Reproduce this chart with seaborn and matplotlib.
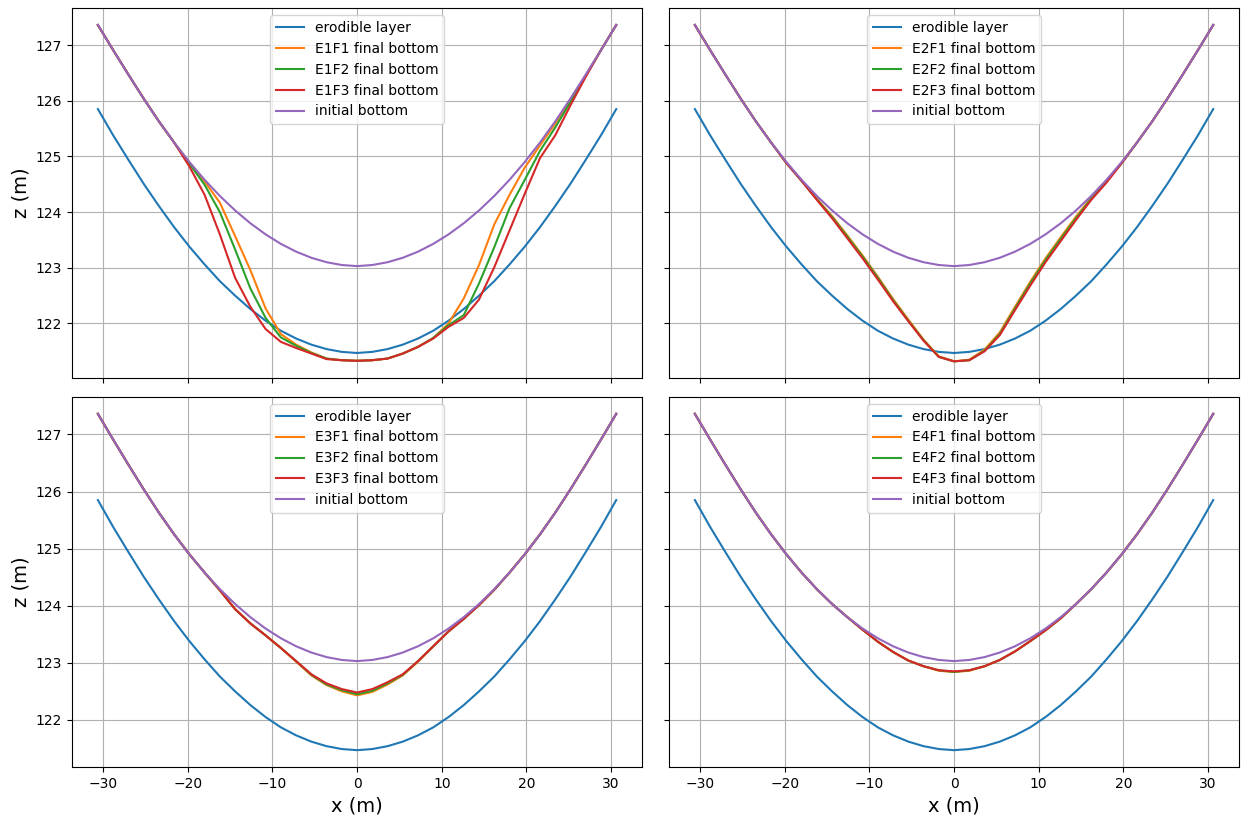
import matplotlib
matplotlib.use("Agg")
import matplotlib.pyplot as plt
import seaborn as sns

# Cross-section stations (m)
x_m = [-30.6, -28.8, -27.0, -25.2, -23.4, -21.6, -19.8, -18.0, -16.2, -14.4, -12.6, -10.8,
       -9.0, -7.2, -5.4, -3.6, -1.8, 0.0, 1.8, 3.6, 5.4, 7.2, 9.0, 10.8, 12.6, 14.4,
       16.2, 18.0, 19.8, 21.6, 23.4, 25.2, 27.0, 28.8, 30.6]

# Top of the erodible layer and the initial bed (m)
erodible = [125.85, 125.38, 124.94, 124.51, 124.11, 123.73, 123.38, 123.06, 122.76, 122.50, 122.26, 122.05,
            121.87, 121.73, 121.62, 121.54, 121.49, 121.47, 121.49, 121.54, 121.62, 121.73, 121.87, 122.05,
            122.26, 122.50, 122.76, 123.06, 123.38, 123.73, 124.11, 124.51, 124.94, 125.38, 125.85]
initial = [127.36, 126.91, 126.47, 126.04, 125.63, 125.25, 124.90, 124.58, 124.29, 124.03, 123.80, 123.60,
           123.43, 123.29, 123.18, 123.10, 123.05, 123.03, 123.05, 123.10, 123.18, 123.29, 123.43, 123.60,
           123.80, 124.03, 124.29, 124.58, 124.90, 125.25, 125.63, 126.04, 126.47, 126.91, 127.36]

# Final bed levels per scenario (m)
e1f1 = [127.36, 126.91, 126.47, 126.04, 125.63, 125.25, 124.89, 124.55, 124.17, 123.57, 122.96, 122.27,
        121.81, 121.62, 121.48, 121.37, 121.34, 121.33, 121.34, 121.37, 121.46, 121.58, 121.74, 122.00,
        122.45, 123.05, 123.78, 124.31, 124.80, 125.20, 125.59, 126.02, 126.46, 126.91, 127.36]
e1f2 = [127.36, 126.91, 126.47, 126.04, 125.63, 125.25, 124.87, 124.49, 124.00, 123.33, 122.63, 122.10,
        121.75, 121.60, 121.47, 121.37, 121.34, 121.33, 121.34, 121.37, 121.46, 121.58, 121.74, 121.97,
        122.15, 122.72, 123.37, 124.07, 124.58, 125.10, 125.52, 125.98, 126.45, 126.91, 127.36]
e1f3 = [127.36, 126.91, 126.47, 126.04, 125.63, 125.25, 124.82, 124.31, 123.60, 122.82, 122.30, 121.90,
        121.67, 121.56, 121.46, 121.36, 121.34, 121.33, 121.34, 121.37, 121.46, 121.58, 121.73, 121.94,
        122.10, 122.43, 123.01, 123.67, 124.33, 124.97, 125.38, 125.92, 126.43, 126.91, 127.36]

e2f1 = [127.36, 126.91, 126.47, 126.04, 125.63, 125.25, 124.89, 124.57, 124.24, 123.93, 123.58, 123.22,
        122.84, 122.44, 122.07, 121.71, 121.41, 121.32, 121.35, 121.53, 121.84, 122.30, 122.75, 123.17,
        123.55, 123.92, 124.26, 124.56, 124.89, 125.25, 125.63, 126.04, 126.47, 126.91, 127.36]
e2f2 = [127.36, 126.91, 126.47, 126.04, 125.63, 125.25, 124.88, 124.56, 124.23, 123.91, 123.56, 123.20,
        122.82, 122.42, 122.05, 121.70, 121.40, 121.32, 121.34, 121.51, 121.81, 122.27, 122.72, 123.14,
        123.52, 123.89, 124.24, 124.55, 124.88, 125.25, 125.63, 126.04, 126.47, 126.91, 127.36]
e2f3 = [127.36, 126.91, 126.47, 126.04, 125.63, 125.25, 124.88, 124.56, 124.22, 123.89, 123.53, 123.17,
        122.79, 122.40, 122.04, 121.69, 121.40, 121.32, 121.34, 121.50, 121.79, 122.24, 122.68, 123.10,
        123.48, 123.86, 124.22, 124.53, 124.88, 125.25, 125.63, 126.04, 126.47, 126.91, 127.36]

e3f1 = [127.36, 126.91, 126.47, 126.04, 125.63, 125.25, 124.90, 124.58, 124.27, 123.94, 123.69, 123.48,
        123.26, 123.02, 122.78, 122.61, 122.50, 122.43, 122.49, 122.62, 122.78, 123.02, 123.29, 123.55,
        123.77, 124.01, 124.28, 124.58, 124.90, 125.25, 125.63, 126.04, 126.47, 126.91, 127.36]
e3f2 = [127.36, 126.91, 126.47, 126.04, 125.63, 125.25, 124.90, 124.58, 124.27, 123.94, 123.69, 123.48,
        123.26, 123.03, 122.79, 122.62, 122.52, 122.45, 122.51, 122.64, 122.79, 123.03, 123.29, 123.55,
        123.77, 124.01, 124.28, 124.58, 124.90, 125.25, 125.63, 126.04, 126.47, 126.91, 127.36]
e3f3 = [127.36, 126.91, 126.47, 126.04, 125.63, 125.25, 124.90, 124.58, 124.27, 123.94, 123.69, 123.48,
        123.26, 123.03, 122.80, 122.64, 122.54, 122.48, 122.54, 122.66, 122.80, 123.03, 123.29, 123.55,
        123.77, 124.01, 124.28, 124.58, 124.90, 125.25, 125.63, 126.04, 126.47, 126.91, 127.36]

e4f1 = [127.36, 126.91, 126.47, 126.04, 125.63, 125.25, 124.90, 124.58, 124.29, 124.03, 123.80, 123.58,
        123.37, 123.19, 123.04, 122.94, 122.86, 122.84, 122.86, 122.94, 123.05, 123.20, 123.38, 123.57,
        123.78, 124.03, 124.29, 124.58, 124.90, 125.25, 125.63, 126.04, 126.47, 126.91, 127.36]
e4f2 = [127.36, 126.91, 126.47, 126.04, 125.63, 125.25, 124.90, 124.58, 124.29, 124.03, 123.80, 123.58,
        123.37, 123.19, 123.04, 122.94, 122.87, 122.84, 122.87, 122.94, 123.05, 123.20, 123.38, 123.57,
        123.78, 124.03, 124.29, 124.58, 124.90, 125.25, 125.63, 126.04, 126.47, 126.91, 127.36]
e4f3 = [127.36, 126.91, 126.47, 126.04, 125.63, 125.25, 124.90, 124.58, 124.29, 124.03, 123.80, 123.58,
        123.37, 123.19, 123.04, 122.94, 122.87, 122.85, 122.87, 122.94, 123.05, 123.20, 123.38, 123.57,
        123.78, 124.03, 124.29, 124.58, 124.90, 125.25, 125.63, 126.04, 126.47, 126.91, 127.36]

scenarios = ["E1", "E2", "E3", "E4"]
finals = {
    "E1": [e1f1, e1f2, e1f3],
    "E2": [e2f1, e2f2, e2f3],
    "E3": [e3f1, e3f2, e3f3],
    "E4": [e4f1, e4f2, e4f3],
}
flows = ["F1", "F2", "F3"]

palette = sns.color_palette("tab10")

fig, axes = plt.subplots(2, 2, figsize=(12.41, 8.19), dpi=100, sharex=True, sharey="row")
fig.subplots_adjust(left=0.058, right=0.9985, top=0.990, bottom=0.0635,
                    wspace=0.047, hspace=0.051)

for ax, sc in zip(axes.flat, scenarios):
    sns.lineplot(x=x_m, y=erodible, ax=ax, color=palette[0], label="erodible layer",
                 sort=False, estimator=None, linewidth=1.5)
    for i, (fl, yv) in enumerate(zip(flows, finals[sc])):
        sns.lineplot(x=x_m, y=yv, ax=ax, color=palette[i + 1],
                     label=f"{sc}{fl} final bottom", sort=False, estimator=None, linewidth=1.5)
    sns.lineplot(x=x_m, y=initial, ax=ax, color=palette[4], label="initial bottom",
                 sort=False, estimator=None, linewidth=1.5)
    ax.grid(True, color="#b0b0b0", linewidth=0.8)
    ax.legend(loc="upper center", fontsize=10)
    ax.set_xlabel("")
    ax.set_ylabel("")
    ax.tick_params(labelsize=10)

for ax in axes[:, 0]:
    ax.set_ylabel("z (m)", fontsize=14)
for ax in axes[1, :]:
    ax.set_xlabel("x (m)", fontsize=14)

fig.savefig("out.png", dpi=100)
